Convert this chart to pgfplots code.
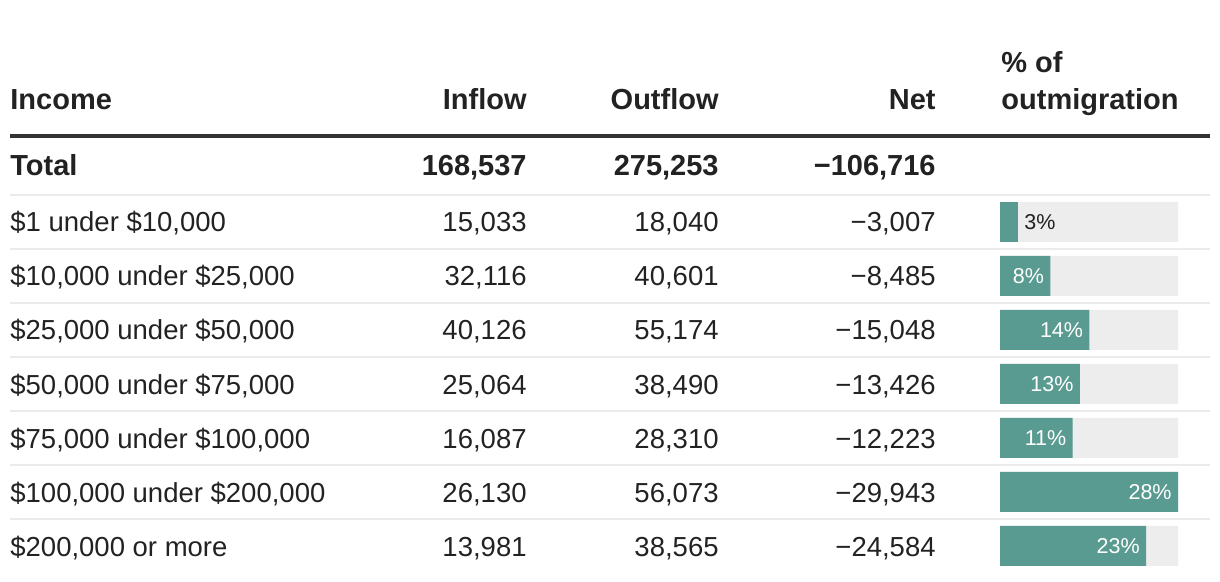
\documentclass[border=0pt]{standalone}
\usepackage{fontspec}
\setmainfont{Liberation Sans}
\usepackage{pgfplots}
\pgfplotsset{compat=1.18}
\definecolor{txt}{HTML}{222222}
\definecolor{barteal}{HTML}{5A9B91}
\definecolor{bargray}{HTML}{EDEDED}
\definecolor{sepgray}{HTML}{EBEBEB}
\definecolor{rulegray}{HTML}{333333}
\newcommand\hd{\fontsize{14.5}{16}\selectfont\bfseries}
\newcommand\bd{\fontsize{13.75}{16}\selectfont}
\newcommand\pf{\fontsize{10.75}{12}\selectfont}
\begin{document}
\begin{tikzpicture}
\begin{scope}[x=0.5pt,y=-0.5pt]
\path[use as bounding box] (0,0) rectangle (1220,582);
\tikzset{L/.style={anchor=base west,inner sep=0,text=txt},R/.style={anchor=base east,inner sep=0,text=txt}}
% header
\node[L,font=\hd] at (10,110) {Income};
\node[R,font=\hd] at (527,110) {Inflow};
\node[R,font=\hd] at (719,110) {Outflow};
\node[R,font=\hd] at (936,110) {Net};
\node[L,font=\hd] at (1001,73) {\% of};
\node[L,font=\hd] at (1001,110) {outmigration};
\draw[rulegray,line width=2pt] (10,136) -- (1210,136);
% total
\node[L,font=\hd] at (10,176) {Total};
\node[R,font=\hd] at (527,176) {168,537};
\node[R,font=\hd] at (719,176) {275,253};
\node[R,font=\hd] at (936,176) {−106,716};
% separators
\foreach \y in {195,249,303,357,411,465,519}
  \draw[sepgray,line width=1pt] (10,\y) -- (1210,\y);
% rows
\node[L,font=\bd] at (10,232) {\$1 under \$10,000};
\node[R,font=\bd] at (527,232) {15,033};
\node[R,font=\bd] at (719,232) {18,040};
\node[R,font=\bd] at (936,232) {−3,007};
\node[L,font=\bd] at (10,286) {\$10,000 under \$25,000};
\node[R,font=\bd] at (527,286) {32,116};
\node[R,font=\bd] at (719,286) {40,601};
\node[R,font=\bd] at (936,286) {−8,485};
\node[L,font=\bd] at (10,340) {\$25,000 under \$50,000};
\node[R,font=\bd] at (527,340) {40,126};
\node[R,font=\bd] at (719,340) {55,174};
\node[R,font=\bd] at (936,340) {−15,048};
\node[L,font=\bd] at (10,394) {\$50,000 under \$75,000};
\node[R,font=\bd] at (527,394) {25,064};
\node[R,font=\bd] at (719,394) {38,490};
\node[R,font=\bd] at (936,394) {−13,426};
\node[L,font=\bd] at (10,448) {\$75,000 under \$100,000};
\node[R,font=\bd] at (527,448) {16,087};
\node[R,font=\bd] at (719,448) {28,310};
\node[R,font=\bd] at (936,448) {−12,223};
\node[L,font=\bd] at (10,502) {\$100,000 under \$200,000};
\node[R,font=\bd] at (527,502) {26,130};
\node[R,font=\bd] at (719,502) {56,073};
\node[R,font=\bd] at (936,502) {−29,943};
\node[L,font=\bd] at (10,556) {\$200,000 or more};
\node[R,font=\bd] at (527,556) {13,981};
\node[R,font=\bd] at (719,556) {38,565};
\node[R,font=\bd] at (936,556) {−24,584};
\end{scope}
% bars
\begin{axis}[at={(500pt,-97.5pt)}, anchor=north west, scale only axis,
  width=89pt, height=189pt, xmin=0, xmax=28.06, ymin=-6.5, ymax=0.5,
  axis lines=none, clip=false,
  /pgf/number format/assume math mode=true]
\addplot[xbar, bar shift=0pt, bar width=20pt, fill=bargray, draw=none]
  coordinates {(28.06,0) (28.06,-1) (28.06,-2) (28.06,-3) (28.06,-4) (28.06,-5) (28.06,-6)};
\addplot[xbar, bar shift=0pt, bar width=20pt, fill=barteal, draw=none,
  point meta=x,
  nodes near coords={\pgfmathprintnumber[fixed,precision=0]{\pgfplotspointmeta}\%},
  nodes near coords style={anchor=west, inner sep=0pt, xshift=3pt, text=txt, font=\pf}]
  coordinates {(2.82,0)};
\addplot[xbar, bar shift=0pt, bar width=20pt, fill=barteal, draw=none,
  point meta=x,
  nodes near coords={\pgfmathprintnumber[fixed,precision=0]{\pgfplotspointmeta}\%},
  nodes near coords style={anchor=east, inner sep=0pt, xshift=-3pt, text=white, font=\pf}]
  coordinates {(7.95,-1) (14.10,-2) (12.58,-3) (11.45,-4) (28.06,-5) (23.04,-6)};
\end{axis}
\end{tikzpicture}
\end{document}
